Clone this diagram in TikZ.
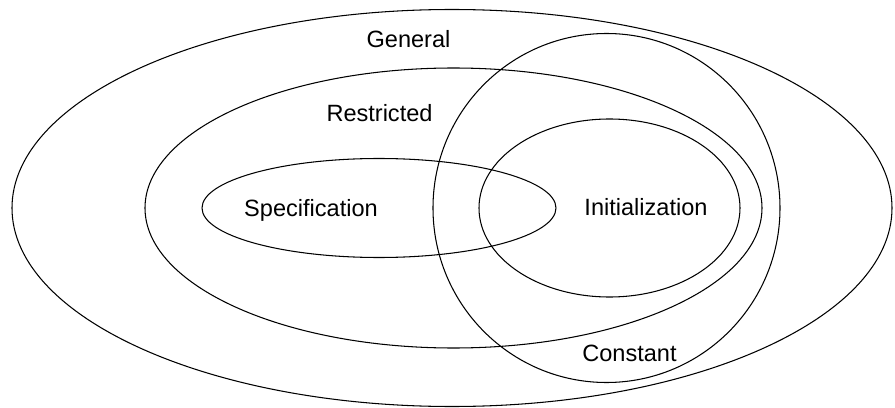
\documentclass[tikz,border=0pt]{standalone}
\usepackage{fontspec}
\setmainfont{Liberation Sans}
\usepackage{tikz}
\usepackage{xcolor}
\usetikzlibrary{positioning}

\begin{document}
\begin{tikzpicture}[
    setline/.style={draw=black, line width=0.6pt},
    setlbl/.style={anchor=base, inner sep=0pt, font=\fontsize{13.4}{16}\selectfont},
]

% fixed frame, same proportions as the reference
\useasboundingbox (-9.04, -3.98) rectangle (8.86, 4.16);

% nested classes
\draw[setline] (0, 0) ellipse [x radius=8.8, y radius=3.97];
\draw[setline] (0.03, 0) ellipse [x radius=6.17, y radius=2.8];
\draw[setline] (-1.46, 0) ellipse [x radius=3.54, y radius=0.99];
\draw[setline] (3.15, 0) ellipse [x radius=2.61, y radius=1.78];

% constant class cuts across the others
\draw[setline] (3.09, 0) ellipse [x radius=3.47, y radius=3.49];

\node[setlbl] (general) at (-0.87, 3.2) {General};
\node[setlbl] (restricted) at (-1.45, 1.72) {Restricted};
\node[setlbl] (spec) at (-2.82, -0.16) {Specification};
\node[setlbl] (init) at (3.88, -0.14) {Initialization};
\node[setlbl] (constant) at (3.55, -3.06) {Constant};

\end{tikzpicture}
\end{document}
